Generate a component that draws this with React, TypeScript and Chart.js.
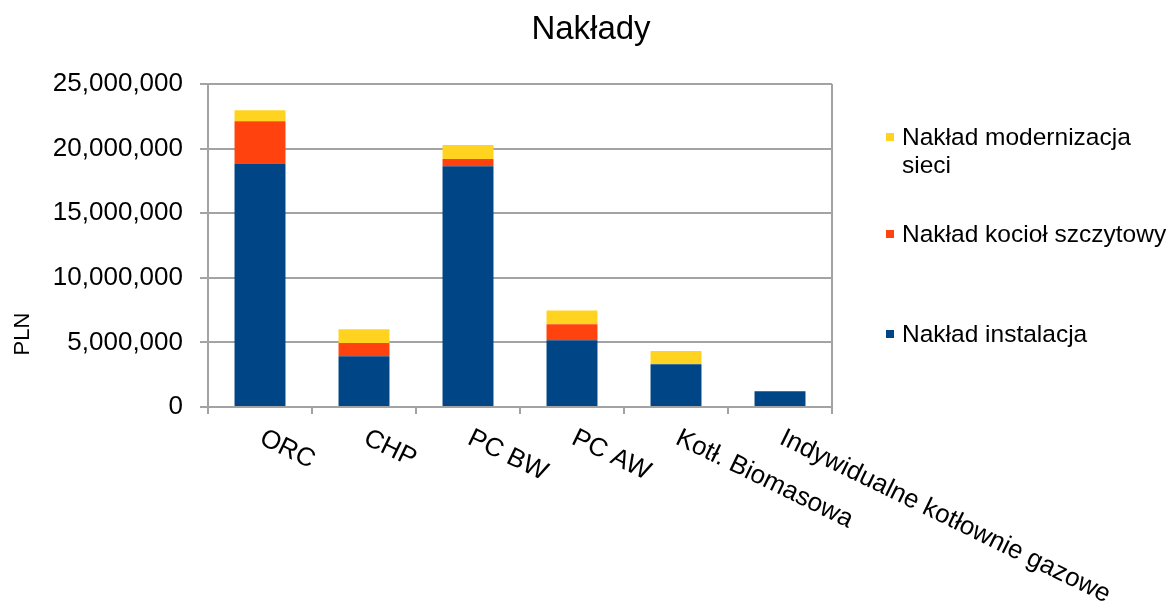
import React, { useEffect, useRef } from 'react';
import { Chart, registerables } from 'chart.js';

Chart.register(...registerables);

const chartTitle = 'Nakłady';
const yAxisTitle = 'PLN';
const categories = ['ORC', 'CHP', 'PC BW', 'PC AW', 'Kotł. Biomasowa', 'Indywidualne kotłownie gazowe'];
const instalacja = [18840000, 3920000, 18630000, 5160000, 3300000, 1210000];
const kociolSzczytowy = [3270000, 1030000, 570000, 1240000, 0, 0];
const modernizacjaSieci = [850000, 1060000, 1080000, 1060000, 1030000, 0];
const seriesNames = ['Nakład instalacja', 'Nakład kocioł szczytowy', 'Nakład modernizacja sieci'];
const legendLines = [['Nakład modernizacja', 'sieci'], ['Nakład kocioł szczytowy'], ['Nakład instalacja']];
const seriesColors = ['#004586', '#ff420e', '#ffd320'];
const yMin = 0;
const yMax = 25000000;
const yStep = 5000000;

const FONT = '"Liberation Sans", Arial, sans-serif';
const GRID = '#a3a3a3';

const decorPlugin = {
  id: 'decor',
  afterDraw(chart: any) {
    const ctx = chart.ctx as CanvasRenderingContext2D;
    const area = chart.chartArea;
    const xs = chart.scales.x;
    ctx.save();
    // right border of plot
    ctx.strokeStyle = GRID;
    ctx.lineWidth = 2;
    ctx.beginPath();
    ctx.moveTo(area.right, area.top);
    ctx.lineTo(area.right, area.bottom + 6);
    ctx.stroke();

    ctx.fillStyle = '#000';
    // title
    ctx.font = `33px ${FONT}`;
    ctx.textAlign = 'center';
    ctx.textBaseline = 'alphabetic';
    ctx.fillText(chartTitle, 591, 39);

    // y axis title
    ctx.save();
    ctx.translate(29, 334);
    ctx.rotate(-Math.PI / 2);
    ctx.font = `22px ${FONT}`;
    ctx.textAlign = 'center';
    ctx.textBaseline = 'alphabetic';
    ctx.fillText(yAxisTitle, 0, 0);
    ctx.restore();

    // x labels rotated
    ctx.font = `26px ${FONT}`;
    categories.forEach((label, i) => {
      const x = xs.getPixelForValue(i);
      ctx.save();
      ctx.translate(x + 7, 425);
      ctx.rotate((26 * Math.PI) / 180);
      ctx.textAlign = 'left';
      ctx.textBaseline = 'top';
      ctx.fillText(label, 0, 0);
      ctx.restore();
    });

    // legend
    const legendItems = [
      { color: seriesColors[2], lines: legendLines[0], baseline: 145 },
      { color: seriesColors[1], lines: legendLines[1], baseline: 242 },
      { color: seriesColors[0], lines: legendLines[2], baseline: 342 },
    ];
    ctx.font = `24.5px ${FONT}`;
    ctx.textAlign = 'left';
    ctx.textBaseline = 'alphabetic';
    legendItems.forEach((it) => {
      ctx.fillStyle = it.color;
      ctx.fillRect(886, it.baseline - 12, 8, 8);
      ctx.fillStyle = '#000';
      it.lines.forEach((ln, k) => {
        ctx.fillText(ln, 902, it.baseline + k * 28);
      });
    });
    ctx.restore();
  },
};

export default function App() {
  const ref = useRef<HTMLCanvasElement | null>(null);
  useEffect(() => {
    if (!ref.current) return;
    const data = [instalacja, kociolSzczytowy, modernizacjaSieci];
    const chart = new Chart(ref.current, {
      type: 'bar',
      data: {
        labels: categories,
        datasets: data.map((d, i) => ({
          label: seriesNames[i],
          data: d,
          backgroundColor: seriesColors[i],
          borderWidth: 0,
          barPercentage: 0.49,
          categoryPercentage: 1,
        })),
      },
      options: {
        animation: false,
        responsive: true,
        maintainAspectRatio: false,
        layout: { padding: { top: 84, right: 340, bottom: 201, left: 0 } },
        plugins: {
          legend: { display: false },
          title: { display: false },
          tooltip: { enabled: false },
        },
        scales: {
          x: {
            stacked: true,
            offset: true,
            grid: { drawOnChartArea: false, drawTicks: true, tickLength: 7, color: GRID, lineWidth: 2, offset: true },
            border: { display: true, color: GRID, width: 2 },
            ticks: { display: false },
            afterFit: (s: any) => { s.height = 0; },
          },
          y: {
            stacked: true,
            min: yMin,
            max: yMax,
            grid: { color: GRID, lineWidth: 2, tickLength: 8 },
            border: { display: true, color: GRID, width: 2 },
            ticks: {
              stepSize: yStep,
              padding: 17,
              color: '#000',
              font: { family: FONT, size: 26 },
              callback: (v: any) => Number(v).toLocaleString('en-US'),
            },
            afterFit: (s: any) => { s.width = 208; },
          },
        },
      },
      plugins: [decorPlugin],
    });
    return () => chart.destroy();
  }, []);
  return (
    <div style={{ position: 'fixed', left: 0, top: 0, width: 1172, height: 608, background: '#fff' }}>
      <canvas ref={ref} />
    </div>
  );
}
